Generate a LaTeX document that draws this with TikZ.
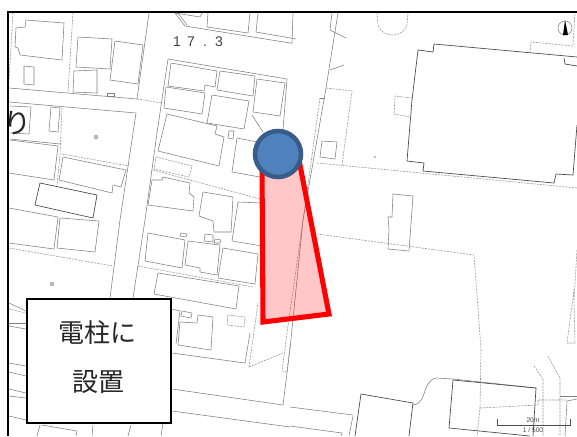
\documentclass[tikz,border=0pt]{standalone}
\usepackage{fontspec}
\setmainfont{Liberation Sans}
\newfontfamily\cjk{Noto Sans CJK JP}
\definecolor{poleblue}{HTML}{4F81BD}
\definecolor{poleedge}{HTML}{385D8A}
\tikzset{
  m/.style={draw=black!50,line width=.42pt,line join=miter},
  k/.style={draw=black!72,line width=.5pt},
  d/.style={draw=black!42,line width=.42pt,dash pattern=on 1.6pt off .8pt},
  roadno/.style={inner sep=0pt,font=\fontsize{10.5}{11}\selectfont,text=black!75},
}
\begin{document}
\begin{tikzpicture}[x=.75pt,y=-.75pt]
\useasboundingbox (0,0) rectangle (577,436);
\fill[white] (0,0) rectangle (577,436);
\begin{scope}
\clip (9,13) rectangle (577,436);
% upper left
\draw[m] (16,28)--(25,27)--(26,20)--(64,23)--(62,60)--(45,58)--(20,55)--(18,48)--(15,47)--cycle;
\draw[m] (24,66)--(34,67)--(34,85)--(24,84)--cycle;
\draw[m] (78,37)--(112,39)--(110,69)--(76,67)--cycle;
\draw[m] (115,41)--(143,45)--(138,84)--(110,80)--cycle;
\draw[m] (74,71)--(97,70)--(97,93)--(73,92)--cycle;
\draw[m] (107,93)--(114,93)--(114,96)--(107,96)--cycle;
\draw[m] (9,88)--(137,99);
\draw[d] (137,99)--(162,103);
\draw[m] (9,102)--(136,113)--(120,220)--(110,298);
\draw[m] (149,13)--(137,99);
\draw[d] (73,13)--(68,92);
\draw[d] (13,13)--(9,80);
\draw[m] (10,106)--(31,107)--(29,134)--(10,133);
\draw[m] (51,107)--(60,108)--(58,132)--(49,131)--cycle;
\draw[d] (62,108)--(60,155)--(57,185);
\draw[m] (10,139)--(60,144);
\draw[m] (10,140)--(58,146)--(54,180)--(9,173);
\draw[d] (62,154)--(129,166);
\draw[m] (63,157)--(126,170)--(121,187)--(113,185)--(112,193)--(59,180)--cycle;
\draw[k] (40,183)--(97,195)--(93,218)--(35,205)--cycle;
\draw[m] (60,218)--(99,221)--(95,252)--(57,248)--cycle;
\draw[m] (9,208)--(58,217)--(54,249)--(9,243);
\draw[d] (9,248)--(113,266);
\filldraw[draw=black!40,fill=black!25,line width=.3pt] (96,137) circle (2);
\filldraw[draw=black!40,fill=black!25,line width=.3pt] (52,284) circle (2);
% block
\draw[m] (168,59)--(287,79)--(283,130);
\draw[m] (168,59)--(157,133)--(145,220)--(133,298);
\draw[m] (171,63)--(217,71)--(215,87)--(205,85)--(204,91)--(168,86)--cycle;
\draw[m] (220,71)--(255,76)--(253,96)--(217,90)--cycle;
\draw[m] (257,79)--(285,83)--(280,116)--(253,112)--cycle;
\draw[m] (166,87)--(205,93)--(202,114)--(164,108)--cycle;
\draw[m] (212,95)--(249,101)--(244,129)--(207,123)--cycle;
\draw[m] (167,114)--(217,126)--(215,134)--(224,137)--(219,166)--(158,151)--cycle;
\draw[m] (229,131)--(234,131)--(233,139)--(228,138)--cycle;
\draw[m] (262,143)--(237,138)--(232,172)--(260,177);
\draw[m] (252,115)--(263,132);
\draw[d] (156,157)--(192,166)--(189,177)--(154,169)--cycle;
\draw[d] (153,170)--(260,199);
\draw[m] (152,180)--(162,180)--(163,177)--(190,183)--(189,193)--(194,197)--(193,211)--(148,205)--cycle;
\draw[m] (203,192)--(233,197)--(232,216)--(231,232)--(214,232)--(213,221)--(199,216)--cycle;
\draw[m] (262,203)--(238,202)--(232,241)--(262,246);
\draw[m] (148,233)--(185,240)--(182,268)--(145,261)--cycle;
\draw[m] (181,233)--(187,234)--(186,237)--(180,236)--cycle;
\draw[m] (205,234)--(213,235)--(213,242)--(204,241)--cycle;
\draw[m] (215,239)--(221,240)--(220,243)--(214,243)--cycle;
\draw[m] (188,241)--(220,245)--(217,275)--(200,272)--(200,268)--(185,265)--cycle;
\draw[m] (223,248)--(258,254)--(255,284)--(218,278)--cycle;
\draw[d] (138,266)--(253,287);
\draw[m] (158,273)--(239,286)--(236,309)--(154,294)--cycle;
\draw[m] (172,309)--(180,311)--(176,344);
\draw[m] (182,311)--(192,313)--(191,318)--(181,316)--cycle;
\draw[m] (198,315)--(213,317)--(211,350)--(178,345)--(180,322)--(197,323)--cycle;
\draw[d] (228,315)--(245,317)--(244,327)--(227,325)--cycle;
\draw[m] (172,353)--(245,363)--(250,333);
\draw[d] (249,367)--(258,303);
\draw[d] (249,367)--(283,353);
\draw[m] (172,389)--(283,405);
\draw[m] (172,411)--(290,427);
% left edge, beside box
\draw[m] (9,303)--(26,311);
\draw[d] (9,309)--(26,313);
\draw[m] (9,323)--(26,323);
\draw[m] (9,326)--(26,329);
\draw[m] (9,363)--(26,366);
\draw[m] (9,372)--(26,376);
\draw[m] (9,389)--(26,393);
\draw[m] (9,396)--(26,398);
\draw[m] (9,416)--(26,420);
\draw[m] (40,425)--(37,436);
\draw[m] (42,425)--(77,431)--(76,436);
\draw[m] (93,425)--(92,436);
\draw[m] (131,425)--(128,436);
\draw[m] (163,423)--(161,436);
% top buildings
\draw[m] (175,13)--(185,26)--(290,43)--(292,43)--(293,13);
\draw[m] (178,13)--(187,25);
\draw[m] (175,13)--(200,17)--(202,13);
\draw[m] (208,13)--(207,27)--(248,33)--(250,13);
\draw[m] (258,13)--(256,32)--(296,39);
% main road
\draw[m] (332,13)--(330,30)--(346,38);
\draw[m] (338,13)--(326,88)--(303,220)--(290,349)--(283,405);
\draw[m] (330,70)--(344,65);
\draw[d] (320,98)--(303,220)--(288,326)--(282,371)--(287,372)--(290,345);
\draw[m] (320,98)--(325,98);
\draw[d] (326,88)--(352,91)--(342,165);
\draw[d] (317,163)--(577,188);
\draw[m] (322,141)--(337,142)--(335,159)--(320,157)--cycle;
\draw[d] (377,13)--(378,25) .. controls (381,32) and (386,35) .. (392,35) .. controls (400,35) and (405,31) .. (407,25)--(408,13);
% big building
\draw[k] (577,57)--(434,44)--(433,52)--(418,50)--(412,100)--(407,161)--(424,163)--(423,171)--(554,183)--(556,174)--(573,175)--(577,125);
\draw[k] (564,58)--(565,64)--(577,66);
\draw[d] (530,53)--(531,42)--(573,46)--(575,13);
\draw[d] (412,98)--(395,96)--(394,114)--(411,117);
\filldraw[draw=black!30,fill=black!15,line width=.3pt] (375,157) circle (1.2);
\draw[m] (393,194)--(413,196)--(409,251)--(388,249)--(389,229)--(388,217)--(392,217)--cycle;
\draw[d] (317,234)--(474,255)--(481,349)--(480,408)--(477,436);
\draw[m] (290,407)--(353,415);
\draw[m] (290,426)--(342,433)--(341,436);
\draw[m] (353,416)--(349,436);
\draw[k] (355,436)--(361,394)--(413,403)--(409,436);
\draw[m] (413,405) .. controls (422,404) and (423,396) .. (426,388) .. controls (429,381) and (433,378) .. (437,378)--(453,379)--(536,388);
\draw[k] (453,380)--(536,388)--(533,436);
\draw[k] (453,380)--(449,428)--(530,436);
\draw[d] (534,366)--(543,379)--(543,436);
\draw[d] (548,356)--(560,378)--(560,436);
\draw[d] (577,250)--(574,300)--(575,343)--(567,343)--(574,290);
\draw[m] (560,396)--(577,396);
\draw[m] (577,399)--(567,401)--(565,436);
\draw[d] (480,408)--(538,405)--(538,400)--(567,400);
\node[inner sep=0pt,font=\cjk\fontsize{21}{21}\selectfont,text=black!85] (kana) at (17,123) {り};
\end{scope}
% north mark
\draw[draw=black!50,line width=.4pt] (565,28) circle (7);
\fill[black] (565,20)--(568,35)--(563,35)--cycle;
% scale
\draw[draw=black!70,line width=.5pt] (497,419)--(497,425)--(570,425)--(570,419);
\node[inner sep=0pt,font=\fontsize{5}{6}\selectfont,text=black!70] (sc1) at (533,420) {20m};
\node[inner sep=0pt,font=\fontsize{5}{6}\selectfont,text=black!70] (sc2) at (533,430) {1 / 500};
\node[roadno] (r1) at (177,42) {1};
\node[roadno] (r2) at (191,42) {7};
\node[roadno] (r3) at (205,46) {.};
\node[roadno] (r4) at (219,42) {3};
% frame
\draw[black,line width=1.2pt] (8,436)--(8,12)--(577,12);
% viewing area
\fill[red,fill opacity=.22] (262,165)--(263,322)--(329,314)--(299,160)--cycle;
\draw[red,line width=3.8pt,line join=miter] (262,165)--(263,322)--(329,314)--(299,160);
\node[circle,minimum size=34.5pt,inner sep=0pt,fill=poleblue,draw=poleedge,line width=3.4pt] (pole) at (278,154) {};
% label box
\node[draw=black,fill=white,line width=1.3pt,minimum width=108pt,minimum height=93pt,inner sep=0pt,anchor=north west] (labelbox) at (26,298) {};
\node[inner sep=0pt,font=\cjk\fontsize{19.5}{19.5}\selectfont,text=black!85] (t1) at (97.5,333) {電柱に};
\node[inner sep=0pt,font=\cjk\fontsize{19.5}{19.5}\selectfont,text=black!85] (t2) at (98,382) {設置};
\end{tikzpicture}
\end{document}
